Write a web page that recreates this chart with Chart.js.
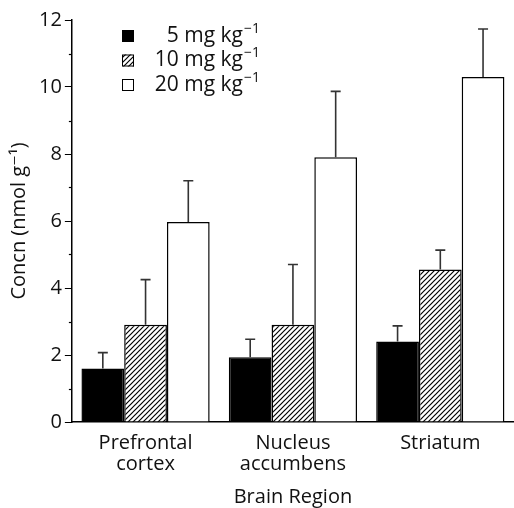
<!DOCTYPE html>
<html><head><meta charset="utf-8">
<script src="https://cdn.jsdelivr.net/npm/chart.js@4"></script>
<style>html,body{margin:0;background:#fff}</style>
</head><body>
<canvas id="c" width="514" height="508"></canvas>
<script>
// data
const REGIONS = [['Prefrontal', 'cortex'], ['Nucleus', 'accumbens'], ['Striatum']];
const DOSES   = ['5', '10', '20'];
const MEAN_5  = [1.6, 1.93, 2.4];
const MEAN_10 = [2.9, 2.9, 4.55];
const MEAN_20 = [5.97, 7.9, 10.3];
const ERR_5   = [0.47, 0.54, 0.47];
const ERR_10  = [1.35, 1.8, 0.58];
const ERR_20  = [1.23, 1.97, 1.43];

const FONT = "'Open Sans', 'DejaVu Sans', sans-serif";
const ctx = document.getElementById('c').getContext('2d');

function hatchPattern() {
  const p = document.createElement('canvas');
  p.width = p.height = 5;
  const g = p.getContext('2d');
  g.fillStyle = '#fff'; g.fillRect(0, 0, 5, 5);
  g.strokeStyle = '#000'; g.lineWidth = 1.2;
  g.beginPath();
  g.moveTo(-1, 6); g.lineTo(6, -1);
  g.moveTo(-1, 1); g.lineTo(1, -1);
  g.moveTo(4, 6); g.lineTo(6, 4);
  g.stroke();
  return ctx.createPattern(p, 'repeat');
}
const HATCH = hatchPattern();
const FILLS = ['#000', HATCH, '#fff'];
const ERRS  = [ERR_5, ERR_10, ERR_20];

// upward error bars with a small cap
const errorBars = {
  id: 'errorBars',
  afterDatasetsDraw(chart) {
    const c = chart.ctx, y = chart.scales.y;
    c.save();
    c.strokeStyle = '#333'; c.lineWidth = 1.6;
    chart.data.datasets.forEach((ds, i) => {
      chart.getDatasetMeta(i).data.forEach((bar, j) => {
        const top = y.getPixelForValue(ds.data[j] + ERRS[i][j]);
        c.beginPath();
        c.moveTo(bar.x, bar.y); c.lineTo(bar.x, top);
        c.moveTo(bar.x - 5, top); c.lineTo(bar.x + 5, top);
        c.stroke();
      });
    });
    c.restore();
  }
};

// legend drawn inside the plot, with superscript units
const insideLegend = {
  id: 'insideLegend',
  afterDraw(chart) {
    const c = chart.ctx;
    c.save();
    DOSES.forEach((d, i) => {
      const cy = 36 + i * 24.5;
      c.fillStyle = FILLS[i];
      c.fillRect(122, cy - 6, 12, 12);
      c.strokeStyle = '#000'; c.lineWidth = 1;
      c.strokeRect(122.5, cy - 5.5, 11, 11);
      c.fillStyle = '#111';
      c.font = '21px ' + FONT;
      c.textAlign = 'right'; c.textBaseline = 'middle';
      c.fillText(d + ' mg kg', 243, cy);
      c.font = '14px ' + FONT;
      c.textAlign = 'left';
      c.fillText('\u22121', 244, cy - 7);
    });
    c.restore();
  }
};

// short minor ticks at odd values
const minorTicks = {
  id: 'minorTicks',
  afterDraw(chart) {
    const c = chart.ctx, y = chart.scales.y, x0 = chart.chartArea.left;
    c.save();
    c.strokeStyle = '#000'; c.lineWidth = 1.2;
    for (let v = 1; v < 12; v += 2) {
      const py = Math.round(y.getPixelForValue(v)) + 0.5;
      c.beginPath(); c.moveTo(x0 - 3, py); c.lineTo(x0, py); c.stroke();
    }
    c.restore();
  }
};

new Chart(ctx, {
  type: 'bar',
  data: {
    labels: REGIONS,
    datasets: [
      { label: DOSES[0] + ' mg kg', data: MEAN_5,  backgroundColor: FILLS[0] },
      { label: DOSES[1] + ' mg kg', data: MEAN_10, backgroundColor: FILLS[1] },
      { label: DOSES[2] + ' mg kg', data: MEAN_20, backgroundColor: FILLS[2] },
    ].map(d => Object.assign(d, { borderColor: '#000', borderWidth: 1.5, categoryPercentage: 0.87, barPercentage: 1 })),
  },
  options: {
    responsive: false, animation: false,
    layout: { padding: { top: 20, right: 0, left: 4, bottom: 0 } },
    plugins: { legend: { display: false }, tooltip: { enabled: false } },
    scales: {
      x: {
        grid: { display: false },
        border: { color: '#000', width: 1.5 },
        ticks: { color: '#111', font: { family: FONT, size: 20, lineHeight: 1.05 }, padding: 3 },
        title: { display: true, text: 'Brain Region', color: '#111', font: { family: FONT, size: 20, lineHeight: 1.1 }, padding: { top: 8, bottom: 0 } },
      },
      y: {
        min: 0, max: 12,
        grid: { drawOnChartArea: false, tickLength: 7, color: '#000',
                tickColor: c => (c.tick && c.tick.value % 2) ? 'rgba(0,0,0,0)' : '#000' },
        border: { color: '#000', width: 1.5 },
        ticks: { stepSize: 1, autoSkip: false, color: '#111', font: { family: FONT, size: 20 }, padding: 3,
                 callback: v => v % 2 === 0 ? v : '' },
        title: { display: true, text: 'Concn (nmol g\u207b\u00b9)', color: '#111', font: { family: FONT, size: 20, lineHeight: 1.1 }, padding: { bottom: 6 } },
      },
    },
  },
  plugins: [errorBars, insideLegend, minorTicks],
});
</script>
</body></html>
